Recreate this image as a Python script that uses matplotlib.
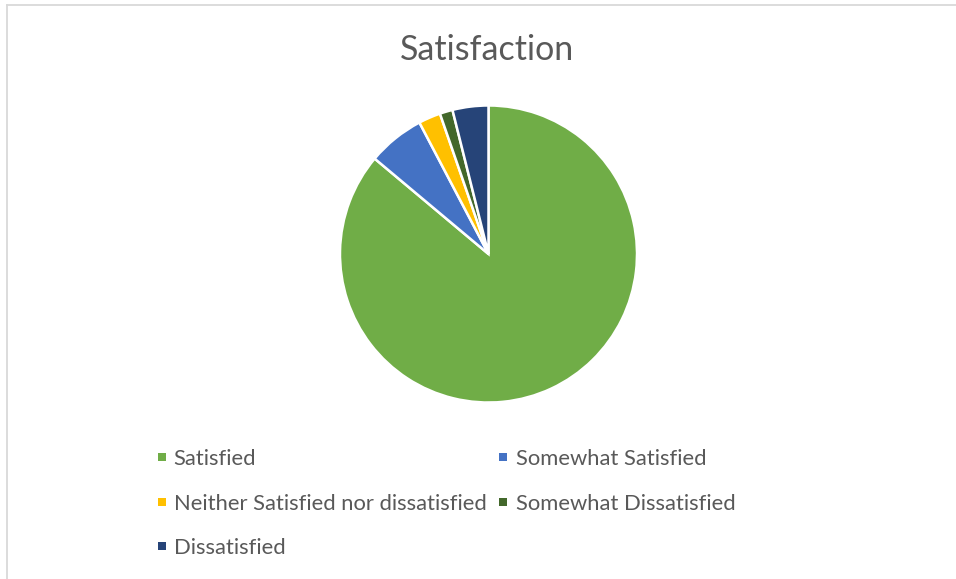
import matplotlib
matplotlib.use("Agg")
import matplotlib.pyplot as plt
from matplotlib.patches import Rectangle
from matplotlib.lines import Line2D

# Survey responses (share of respondents, %)
categories = [
    "Satisfied",
    "Somewhat Satisfied",
    "Neither Satisfied nor dissatisfied",
    "Somewhat Dissatisfied",
    "Dissatisfied",
]
shares = [86.1, 6.2, 2.4, 1.4, 3.9]
colors = ["#70AD47", "#4472C4", "#FFC000", "#43682B", "#264478"]
title = "Satisfaction"

TEXT = "#595959"
FONT = "Lato"

W, H = 956, 579
fig = plt.figure(figsize=(W / 100, H / 100), dpi=100)
fig.patch.set_facecolor("white")


def fx(px):
    return px / W


def fy(py):
    return 1 - py / H


# chart-area frame (top and left edges)
fig.add_artist(Line2D([fx(7), fx(W)], [fy(5), fy(5)], color="#D9D9D9", lw=1.3))
fig.add_artist(Line2D([fx(7), fx(7)], [fy(5), fy(H)], color="#D9D9D9", lw=1.3))

# pie
cx, cy, r = 488.5, 254, 150
ax = fig.add_axes([fx(cx - r), fy(cy + r), (2 * r) / W, (2 * r) / H])
ax.pie(
    shares,
    colors=colors,
    startangle=90,
    counterclock=False,
    radius=1.0,
    wedgeprops=dict(edgecolor="white", linewidth=1.8),
)
ax.set_xlim(-1.01, 1.01)
ax.set_ylim(-1.01, 1.01)
ax.set_aspect("equal")
ax.axis("off")

# title
fig.text(fx(487.5), fy(50), title, ha="center", va="center",
         fontsize=24.5, color=TEXT, family=FONT)

# legend laid out in rows of two
col_marker_x = [161.8, 502.5]
col_text_x = [173.6, 515.6]
row_y = [457, 501.5, 546]
sq = 8
for i, (name, col) in enumerate(zip(categories, colors)):
    row, c = divmod(i, 2)
    mx, my = col_marker_x[c], row_y[row]
    fig.add_artist(Rectangle((fx(mx - sq / 2), fy(my + sq / 2)), sq / W, sq / H,
                             transform=fig.transFigure, facecolor=col,
                             edgecolor="none"))
    fig.text(fx(col_text_x[c]), fy(my), name, ha="left", va="center_baseline",
             fontsize=15.8, color=TEXT, family=FONT)

fig.savefig("out.png", dpi=100, facecolor="white")
